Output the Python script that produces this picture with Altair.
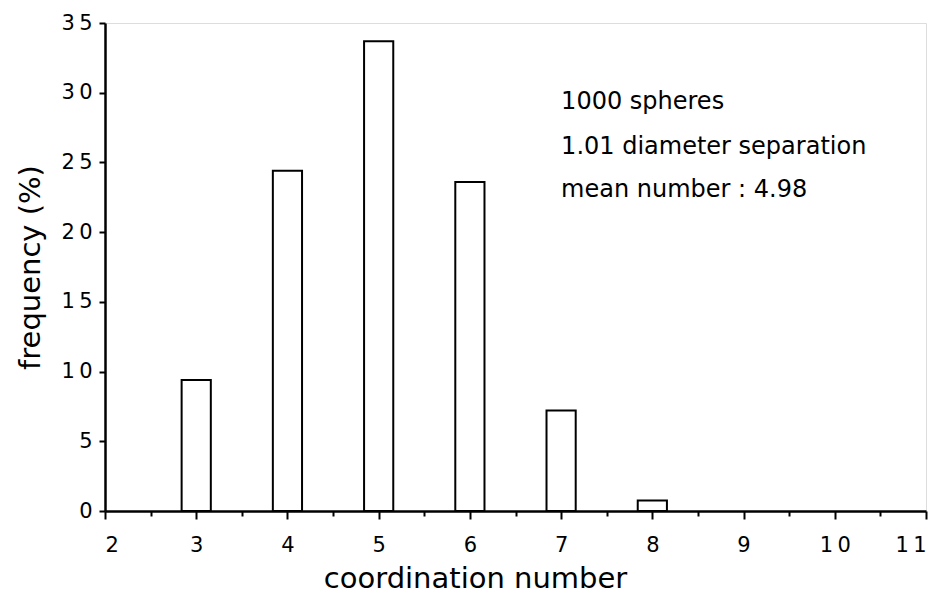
import altair as alt
import pandas as pd

# ---- data ----
coordination = [3, 4, 5, 6, 7, 8]
frequency = [9.4, 24.4, 33.7, 23.6, 7.2, 0.75]

x_ticks = [2, 2.5, 3, 3.5, 4, 4.5, 5, 5.5, 6, 6.5, 7, 7.5, 8, 8.5, 9, 9.5, 10, 10.5, 11]
y_ticks = [0, 2.5, 5, 7.5, 10, 12.5, 15, 17.5, 20, 22.5, 25, 27.5, 30, 32.5, 35]

note_lines = ["1000 spheres", "1.01 diameter  separation", "mean number : 4.98"]
note_x = [7.0, 7.0, 7.0]
note_y = [29.3, 26.1, 23.0]

bars = pd.DataFrame({"n": coordination, "f": frequency})
notes = pd.DataFrame({"t": note_lines, "x": note_x, "y": note_y})

FONT = "DejaVu Sans"
HALF = 0.16  # half bar width in x units

spaced = "join(split(format(datum.value, 'd'), ''), '\u2009')"

x_scale = alt.Scale(domain=[2, 11], nice=False, zero=False)
y_scale = alt.Scale(domain=[0, 35], nice=False)

x_axis = alt.Axis(
    values=x_ticks,
    labelExpr=f"datum.value % 1 === 0 ? {spaced} : ''",
    tickSize={"condition": {"test": "datum.value % 1 !== 0", "value": 5}, "value": 8},
    tickWidth=2,
    domainWidth=2.5,
    domainColor="black",
    tickColor="black",
    labelColor="black",
    labelFont=FONT,
    labelFontSize=21,
    labelPadding=15,
    grid=False,
    title="coordination number",
    titleFont=FONT,
    titleFontSize=29,
    titleFontWeight="normal",
    titleColor="black",
    titleX=370,
    titleY=76,
    titleBaseline="alphabetic",
)

y_axis = alt.Axis(
    values=y_ticks,
    labelExpr=f"datum.value % 5 === 0 ? {spaced} : ''",
    tickSize={"condition": {"test": "datum.value % 5 !== 0", "value": 3}, "value": 6},
    tickWidth=2,
    domainWidth=2.5,
    domainColor="black",
    tickColor="black",
    labelColor="black",
    labelFont=FONT,
    labelFontSize=21,
    labelPadding=7,
    grid=False,
    title="frequency (%)",
    titleFont=FONT,
    titleFontSize=29,
    titleFontWeight="normal",
    titleColor="black",
    titlePadding=16,
)

bar_layer = (
    alt.Chart(bars)
    .transform_calculate(lo=f"datum.n - {HALF}", hi=f"datum.n + {HALF}")
    .mark_bar(fill="white", stroke="black", strokeWidth=2)
    .encode(
        x=alt.X("lo:Q", scale=x_scale, axis=x_axis),
        x2="hi:Q",
        y=alt.Y("f:Q", scale=y_scale, axis=y_axis),
        y2=alt.datum(0),
    )
)

note_layer = (
    alt.Chart(notes)
    .mark_text(align="left", baseline="middle", font=FONT, fontSize=24, color="black")
    .encode(
        x=alt.X("x:Q", scale=x_scale),
        y=alt.Y("y:Q", scale=y_scale),
        text="t:N",
    )
)

chart = (
    alt.layer(bar_layer, note_layer)
    .properties(
        width=821,
        height=488,
        autosize=alt.AutoSizeParams(type="none"),
        padding={"left": 105, "top": 23, "right": 23, "bottom": 101},
    )
    .configure_view(stroke=None)
    .configure(background="white")
)

chart.save("out.html", embed_options={"renderer": "svg", "actions": False})
